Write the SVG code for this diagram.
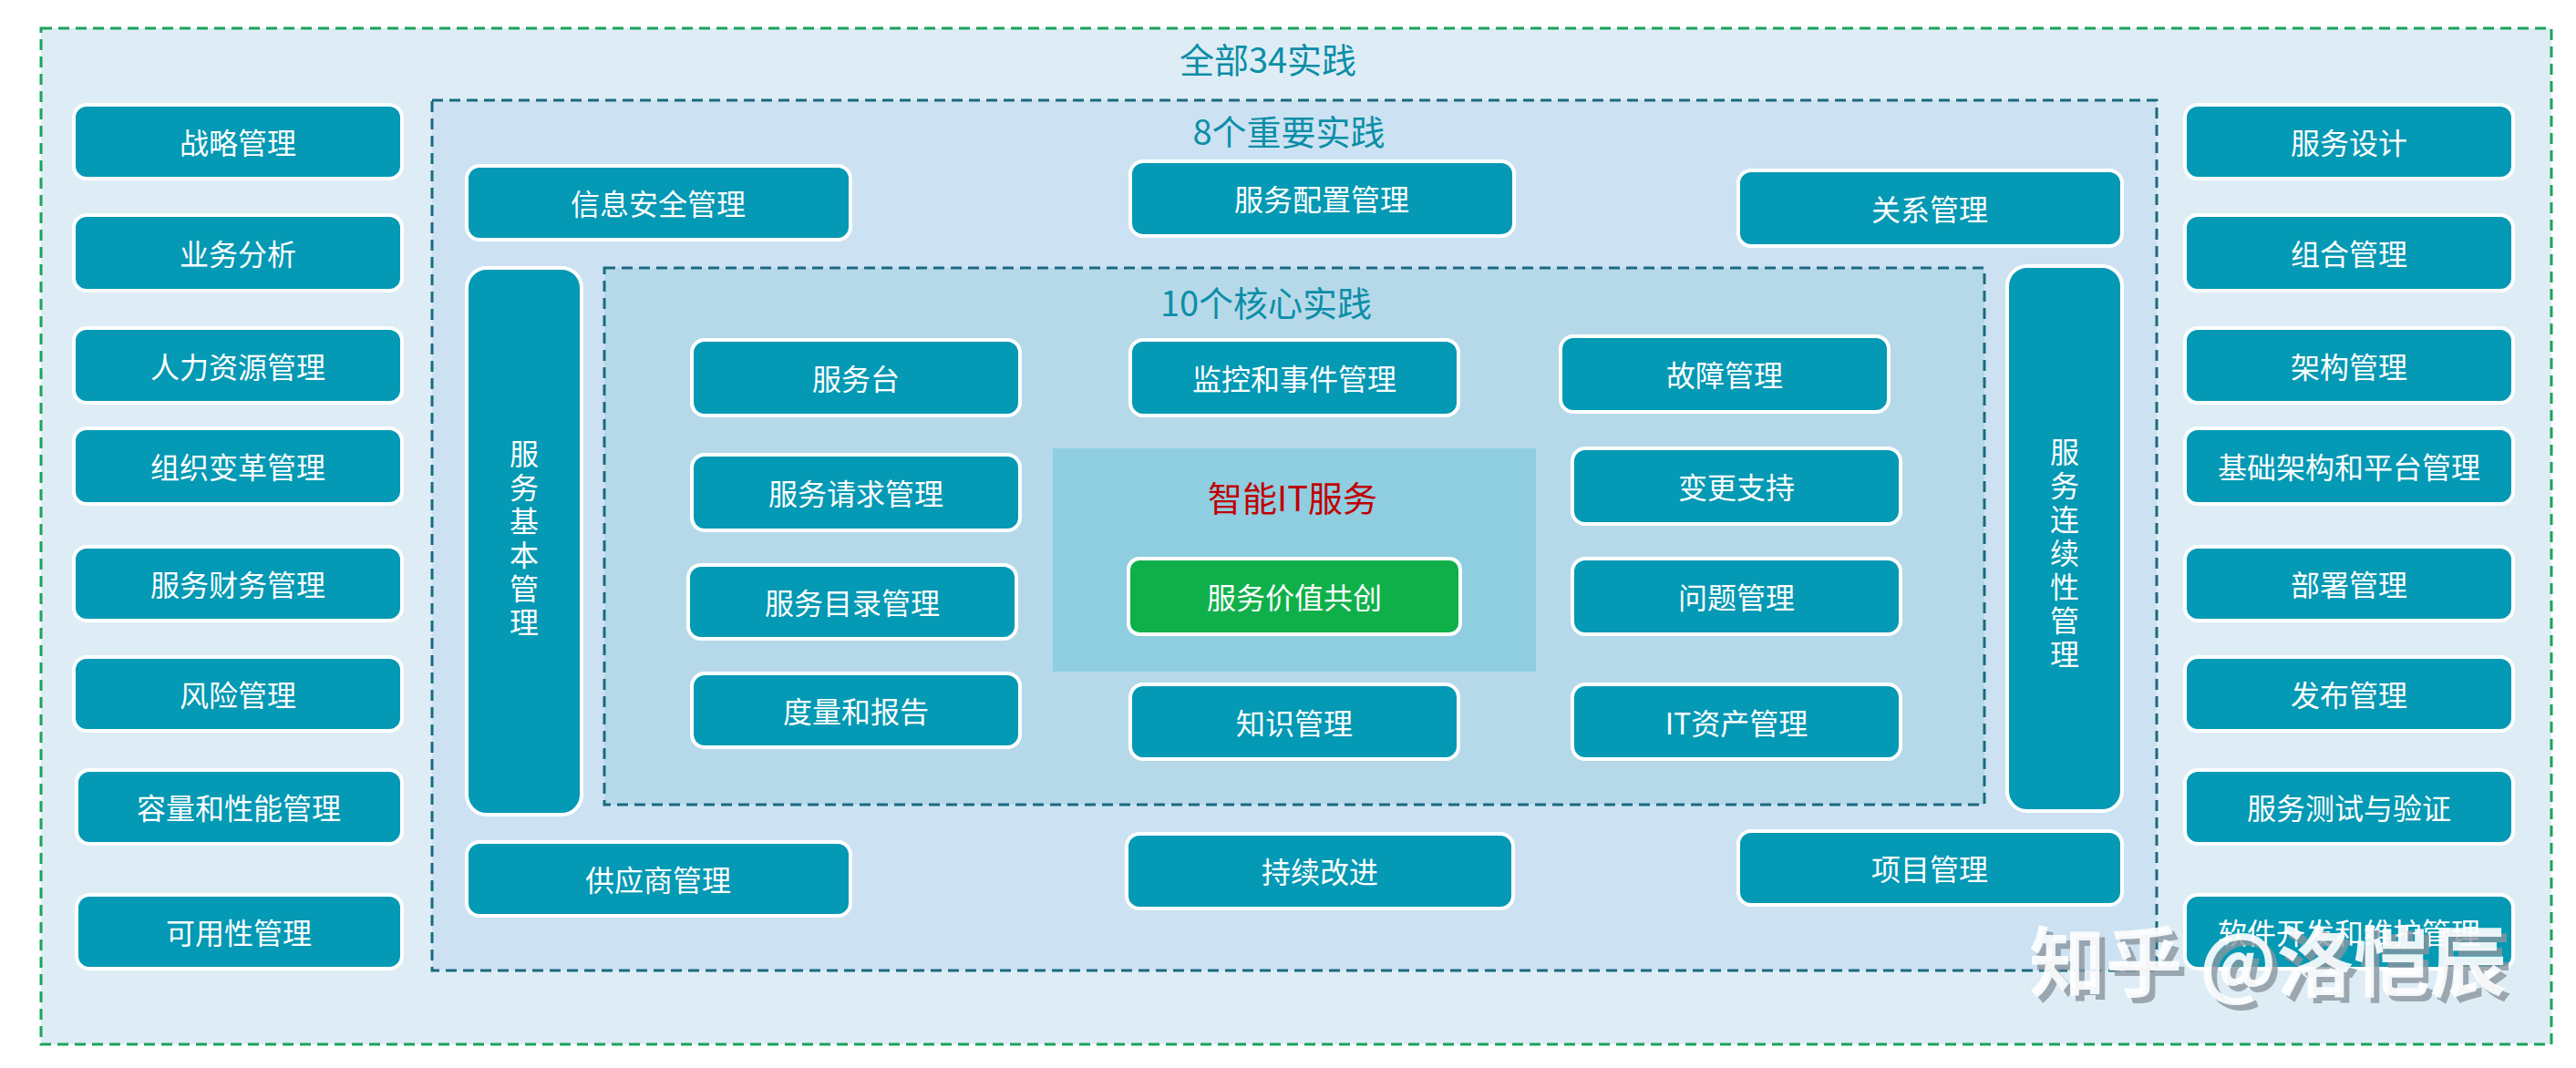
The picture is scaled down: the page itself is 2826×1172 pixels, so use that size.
<svg xmlns="http://www.w3.org/2000/svg" width="2826" height="1172" viewBox="0 0 2826 1172">
<style>
.n rect{fill:#0499b4;stroke:#ffffff;stroke-width:4}
.n text{fill:#ffffff;font-family:"Noto Sans CJK SC","Noto Sans",sans-serif;font-size:32px;text-anchor:middle;dominant-baseline:central}
.t{fill:#0b8ea8;font-family:"Noto Sans CJK SC","Noto Sans",sans-serif;font-size:38px;text-anchor:middle;dominant-baseline:central}
</style>
<rect width="2826" height="1172" fill="#ffffff"/>
<g id="all34">
<rect x="45" y="31" width="2754" height="1115" fill="#deedf5" stroke="#1aa35a" stroke-width="3" stroke-dasharray="12,7"/>
<text class="t" x="1391" y="63">全部34实践</text>
</g>
<g id="imp8">
<rect x="474" y="110" width="1892" height="955" fill="#cce2f2" stroke="#1b6a80" stroke-width="3" stroke-dasharray="12,7"/>
<text class="t" x="1414" y="142">8个重要实践</text>
</g>
<g id="core10">
<rect x="663" y="294" width="1514" height="589" fill="#b6d9ea" stroke="#1b6a80" stroke-width="3" stroke-dasharray="12,7"/>
<text class="t" x="1389" y="330">10个核心实践</text>
</g>
<g id="center">
<rect x="1155" y="492" width="530" height="245" fill="#8fcde0"/>
<text x="1418" y="544" fill="#c00000" font-family="Noto Sans CJK SC,sans-serif" font-size="38" text-anchor="middle" dominant-baseline="central">智能IT服务</text>
</g>
<g id="cocreate" class="n"><rect x="1238" y="613" width="364" height="83" rx="12" style="fill:#0fb04a"/><text x="1420" y="654">服务价值共创</text></g>

<g id="l1" class="n"><rect x="81" y="115" width="360" height="81" rx="14"/><text x="261" y="155">战略管理</text></g>
<g id="l2" class="n"><rect x="81" y="236" width="360" height="83" rx="14"/><text x="261" y="277">业务分析</text></g>
<g id="l3" class="n"><rect x="81" y="360" width="360" height="82" rx="14"/><text x="261" y="401">人力资源管理</text></g>
<g id="l4" class="n"><rect x="81" y="470" width="360" height="83" rx="14"/><text x="261" y="511">组织变革管理</text></g>
<g id="l5" class="n"><rect x="81" y="600" width="360" height="81" rx="14"/><text x="261" y="640">服务财务管理</text></g>
<g id="l6" class="n"><rect x="81" y="721" width="360" height="81" rx="14"/><text x="261" y="761">风险管理</text></g>
<g id="l7" class="n"><rect x="84" y="845" width="357" height="81" rx="14"/><text x="262" y="885">容量和性能管理</text></g>
<g id="l8" class="n"><rect x="84" y="982" width="357" height="81" rx="14"/><text x="262" y="1022">可用性管理</text></g>

<g id="r1" class="n"><rect x="2397" y="115" width="360" height="81" rx="14"/><text x="2577" y="155">服务设计</text></g>
<g id="r2" class="n"><rect x="2397" y="236" width="360" height="83" rx="14"/><text x="2577" y="277">组合管理</text></g>
<g id="r3" class="n"><rect x="2397" y="360" width="360" height="82" rx="14"/><text x="2577" y="401">架构管理</text></g>
<g id="r4" class="n"><rect x="2397" y="470" width="360" height="83" rx="14"/><text x="2577" y="511">基础架构和平台管理</text></g>
<g id="r5" class="n"><rect x="2397" y="600" width="360" height="81" rx="14"/><text x="2577" y="640">部署管理</text></g>
<g id="r6" class="n"><rect x="2397" y="721" width="360" height="81" rx="14"/><text x="2577" y="761">发布管理</text></g>
<g id="r7" class="n"><rect x="2397" y="845" width="360" height="81" rx="14"/><text x="2577" y="885">服务测试与验证</text></g>
<g id="r8" class="n"><rect x="2397" y="982" width="360" height="81" rx="14"/><text x="2577" y="1022">软件开发和维护管理</text></g>

<g id="m1" class="n"><rect x="512" y="182" width="421" height="81" rx="14"/><text x="722" y="222">信息安全管理</text></g>
<g id="m2" class="n"><rect x="1240" y="177" width="421" height="82" rx="14"/><text x="1450" y="217">服务配置管理</text></g>
<g id="m3" class="n"><rect x="1907" y="187" width="421" height="83" rx="14"/><text x="2117" y="228">关系管理</text></g>
<g id="m4" class="n"><rect x="512" y="294" width="126" height="600" rx="22"/><text x="575" y="496">服</text><text x="575" y="533">务</text><text x="575" y="570">基</text><text x="575" y="607">本</text><text x="575" y="644">管</text><text x="575" y="681">理</text></g>
<g id="m5" class="n"><rect x="2202" y="292" width="126" height="598" rx="22"/><text x="2265" y="494">服</text><text x="2265" y="531">务</text><text x="2265" y="568">连</text><text x="2265" y="605">续</text><text x="2265" y="642">性</text><text x="2265" y="679">管</text><text x="2265" y="716">理</text></g>
<g id="m6" class="n"><rect x="512" y="924" width="421" height="81" rx="14"/><text x="722" y="964">供应商管理</text></g>
<g id="m7" class="n"><rect x="1236" y="915" width="424" height="82" rx="14"/><text x="1448" y="955">持续改进</text></g>
<g id="m8" class="n"><rect x="1907" y="912" width="421" height="81" rx="14"/><text x="2117" y="952">项目管理</text></g>

<g id="c1" class="n"><rect x="759" y="373" width="360" height="83" rx="14"/><text x="939" y="414">服务台</text></g>
<g id="c2" class="n"><rect x="759" y="499" width="360" height="83" rx="14"/><text x="939" y="540">服务请求管理</text></g>
<g id="c3" class="n"><rect x="755" y="620" width="360" height="81" rx="14"/><text x="935" y="660">服务目录管理</text></g>
<g id="c4" class="n"><rect x="759" y="739" width="360" height="81" rx="14"/><text x="939" y="779">度量和报告</text></g>
<g id="c5" class="n"><rect x="1240" y="373" width="360" height="83" rx="14"/><text x="1420" y="414">监控和事件管理</text></g>
<g id="c6" class="n"><rect x="1240" y="751" width="360" height="82" rx="14"/><text x="1420" y="792">知识管理</text></g>
<g id="c7" class="n"><rect x="1712" y="369" width="360" height="83" rx="14"/><text x="1892" y="410">故障管理</text></g>
<g id="c8" class="n"><rect x="1725" y="492" width="360" height="83" rx="14"/><text x="1905" y="533">变更支持</text></g>
<g id="c9" class="n"><rect x="1725" y="613" width="360" height="83" rx="14"/><text x="1905" y="654">问题管理</text></g>
<g id="c10" class="n"><rect x="1725" y="751" width="360" height="82" rx="14"/><text x="1905" y="792">IT资产管理</text></g>

<g id="connectors"></g>
<g id="watermark" font-family="Noto Sans CJK SC,sans-serif" font-size="84" font-weight="bold">
<text x="2232" y="1093" fill="#8a96a0" opacity="0.8">知乎 @洛恺辰</text>
<text x="2226" y="1087" fill="#ffffff" opacity="0.9">知乎 @洛恺辰</text>
</g>
</svg>
